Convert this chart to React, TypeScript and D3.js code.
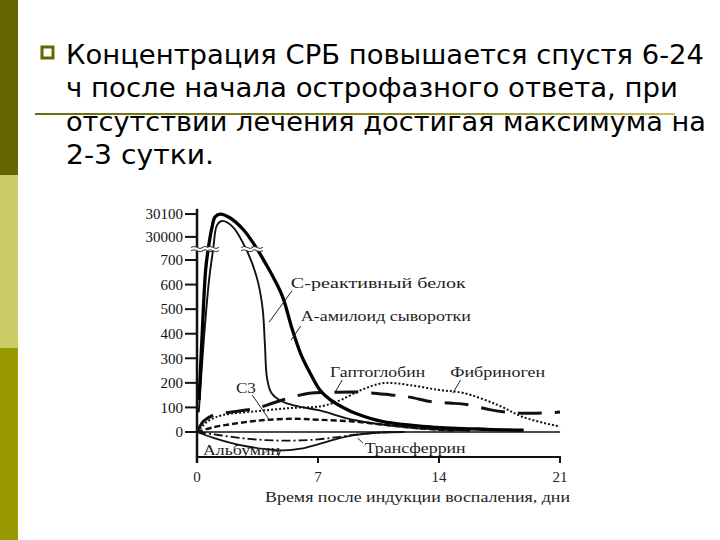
import React from 'react';
import * as d3 from 'd3';

// title lines of the slide
const titleLines = [
  'Концентрация СРБ повышается спустя 6-24',
  'ч после начала острофазного ответа, при',
  'отсутствии лечения достигая максимума на',
  '2-3 сутки.',
];

// y axis: display units (axis is broken above 700)
const yTickValues = [0, 100, 200, 300, 400, 500, 600, 700, 794, 887];
const yTickLabels = ['0', '100', '200', '300', '400', '500', '600', '700', '30000', '30100'];
const xTickValues = [0, 7, 14, 21];

// series: [day, value]
const saa: [number, number][] = [
  [0.12, 130], [0.3, 400], [0.5, 660], [0.64, 741], [0.87, 834], [1.04, 875], [1.33, 887],
  [1.9, 872], [2.7, 822], [3.47, 745], [4.0, 682], [4.5, 618], [4.98, 545], [5.5, 420],
  [6.0, 318], [6.54, 240], [7.12, 170], [7.7, 132], [8.45, 100], [9.2, 75], [10.76, 42],
  [13.6, 20], [16.8, 11], [18.9, 8],
];
const crp: [number, number][] = [
  [0.1, 80], [0.4, 380], [0.7, 620], [0.93, 741], [1.16, 842], [1.45, 859], [2.08, 834],
  [2.78, 753], [3.18, 688], [3.53, 610], [3.8, 500], [3.93, 354], [4.05, 220], [4.3, 160],
  [4.9, 125], [5.8, 105], [7.1, 88], [9, 50], [12.3, 18], [15.8, 5],
];
const haptoglobin: [number, number][] = [
  [0, 0], [0.4, 45], [1, 70], [2.1, 82], [3.5, 98], [4.4, 118], [5.5, 142], [6.5, 158],
  [8, 162], [9.5, 162], [11.2, 151], [12.3, 142], [13.5, 124], [14.6, 118], [15.6, 112],
  [17, 90], [18.3, 78], [19.4, 76], [21, 81],
];
const fibrinogen: [number, number][] = [
  [0, 0], [0.4, 30], [0.75, 49], [1.5, 69], [3.5, 85], [5.5, 98], [7.2, 105], [8.3, 130],
  [9.5, 171], [10.8, 199], [12.3, 191], [14, 171], [15.4, 159], [17.4, 110], [18.9, 60],
  [21, 22],
];
const c3: [number, number][] = [
  [0, 0], [1, 20], [2, 32], [3, 42], [4, 49], [5.5, 54], [7, 50], [9, 43], [11, 28],
  [13, 14], [15, 5],
];
const albumin: [number, number][] = [
  [0, 0], [1, -25], [2, -45], [3, -60], [4, -70], [5, -75], [6, -68], [7, -50], [8, -30],
  [9, -14], [10, -5], [11, -1], [12, 0],
];
const transferrin: [number, number][] = [
  [0, 0], [1, -10], [2, -20], [3, -28], [4, -33], [5, -35], [6, -34], [7, -30], [8, -22],
  [9, -12], [10, -5], [11, -1], [12, 0],
];

// where the curves cross the axis break (day on each curve)
const breakDays = { saa: [0.64, 3.47], crp: [0.93, 2.9] };
const breakValue = 745;

const labels = [
  { text: 'С-реактивный белок', day: 5.43, v: 585, w: 175, lead: [[5.5, 575], [4.17, 447]] },
  { text: 'А-амилоид сыворотки', day: 6.01, v: 452, w: 170, lead: [[6.0, 431], [5.44, 374]] },
  { text: 'Гаптоглобин', day: 7.7, v: 224, w: 95, lead: [[8.4, 212], [8.0, 163]] },
  { text: 'Фибриноген', day: 14.65, v: 224, w: 95, lead: [[15.25, 212], [14.8, 158]] },
  { text: 'С3', day: 2.25, v: 160, w: 20, lead: [[3.2, 150], [4.2, 48]] },
  { text: 'Альбумин', day: 0.35, v: -94, w: 77, lead: [[4.85, -72], [4.7, -100]] },
  { text: 'Трансферрин', day: 9.7, v: -86, w: 101, lead: [[9.6, -45], [9.3, -25]] },
];

const serif = '"Liberation Serif", "DejaVu Serif", serif';

const BreakMark = ({ cx, cy }: { cx: number; cy: number }) => (
  <g transform={`translate(${cx},${cy})`}>
    <rect x={-6} y={-2} width={12} height={4} fill="#fff" />
    <path d="M-6,-1.5 Q-3,-3.5 0,-1.5 T6,-1.5" fill="none" stroke="#333" strokeWidth={1} />
    <path d="M-6,1.8 Q-3,-0.2 0,1.8 T6,1.8" fill="none" stroke="#333" strokeWidth={1} />
  </g>
);

export default function App() {
  const x = d3.scaleLinear().domain([0, 21]).range([197, 560]);
  const y = d3.scaleLinear().domain([0, 700]).range([432, 260]);
  const line = d3
    .line<[number, number]>()
    .x((d) => x(d[0]))
    .y((d) => y(d[1]))
    .curve(d3.curveCatmullRom.alpha(0.5));

  const axisBottomY = 457;
  const ruleGrad = 'ruleGrad';

  return (
    <div style={{ position: 'fixed', left: 0, top: 0 }}>
      <svg width={720} height={540} style={{ display: 'block', background: '#fff' }}>
        <defs>
          <linearGradient id={ruleGrad} x1="0" x2="1" y1="0" y2="0">
            <stop offset="0" stopColor="#6b6b10" />
            <stop offset="0.6" stopColor="#8a8a20" />
            <stop offset="1" stopColor="#c8c060" />
          </linearGradient>
        </defs>

        {/* sidebar */}
        <rect x={0} y={0} width={18} height={175} fill="#666600" />
        <rect x={0} y={175} width={18} height={173} fill="#cccc66" />
        <rect x={0} y={348} width={18} height={192} fill="#999900" />

        {/* bullet */}
        <rect x={42} y={47} width={11} height={11} fill="#fff" stroke="#666600" strokeWidth={3} />

        {/* rule under second line */}
        <rect x={35} y={113} width={640} height={2} fill={`url(#${ruleGrad})`} />

        {/* title text */}
        {titleLines.map((t, i) => (
          <text
            key={t}
            x={66}
            y={64 + i * 33.3}
            fontFamily='"DejaVu Sans", sans-serif'
            fontSize={26}
            fill="#000"
            textLength={[638, 612, 640, 148][i]}
            lengthAdjust="spacingAndGlyphs"
          >
            {t}
          </text>
        ))}

        {/* zero line */}
        <line x1={x(0)} x2={x(21)} y1={y(0)} y2={y(0)} stroke="#111" strokeWidth={1.3} />

        {/* series */}
        <path d={line(transferrin) || ''} fill="none" stroke="#111" strokeWidth={1.8} strokeDasharray="9 3 2 3" />
        <path d={line(albumin) || ''} fill="none" stroke="#111" strokeWidth={1.8} />
        <path d={line(c3) || ''} fill="none" stroke="#111" strokeWidth={2.4} strokeDasharray="6 3" />
        <path d={line(fibrinogen) || ''} fill="none" stroke="#111" strokeWidth={2} strokeDasharray="2 2" />
        <path d={line(haptoglobin) || ''} fill="none" stroke="#111" strokeWidth={3} strokeDasharray="24 13" />
        <path d={line(crp) || ''} fill="none" stroke="#111" strokeWidth={1.9} />
        <path d={line(saa) || ''} fill="none" stroke="#000" strokeWidth={3.3} />

        {/* break marks */}
        {[...breakDays.saa, ...breakDays.crp].map((d, i) => (
          <BreakMark key={i} cx={x(d)} cy={y(breakValue)} />
        ))}

        {/* y axis */}
        <line x1={x(0)} x2={x(0)} y1={y(900) - 2} y2={axisBottomY + 6} stroke="#111" strokeWidth={2.5} />
        <BreakMark cx={x(0)} cy={y(breakValue)} />
        {yTickValues.map((v, i) => (
          <g key={v}>
            <line x1={x(0) - 12} x2={x(0)} y1={y(v)} y2={y(v)} stroke="#111" strokeWidth={2} />
            <text
              x={x(0) - 14}
              y={y(v)}
              dy="0.35em"
              textAnchor="end"
              fontFamily={serif}
              fontSize={15}
              fill="#111"
            >
              {yTickLabels[i]}
            </text>
          </g>
        ))}

        {/* x axis */}
        <line x1={x(0)} x2={x(21) + 1} y1={axisBottomY} y2={axisBottomY} stroke="#111" strokeWidth={2} />
        {xTickValues.map((v) => (
          <g key={v}>
            <line x1={x(v)} x2={x(v)} y1={axisBottomY} y2={axisBottomY + 6} stroke="#111" strokeWidth={2} />
            <text x={x(v)} y={482} textAnchor="middle" fontFamily={serif} fontSize={15} fill="#222">
              {v}
            </text>
          </g>
        ))}
        <text
          x={265}
          y={502}
          fontFamily={serif}
          fontSize={15}
          fill="#222"
          textLength={305}
          lengthAdjust="spacingAndGlyphs"
        >
          Время после индукции воспаления, дни
        </text>

        {/* series labels */}
        {labels.map((l) => (
          <g key={l.text}>
            <text
              x={x(l.day)}
              y={y(l.v)}
              fontFamily={serif}
              fontSize={15}
              fill="#222"
              textLength={l.w}
              lengthAdjust="spacingAndGlyphs"
            >
              {l.text}
            </text>
            <line
              x1={x(l.lead[0][0])}
              y1={y(l.lead[0][1])}
              x2={x(l.lead[1][0])}
              y2={y(l.lead[1][1])}
              stroke="#222"
              strokeWidth={1}
            />
          </g>
        ))}
      </svg>
    </div>
  );
}
